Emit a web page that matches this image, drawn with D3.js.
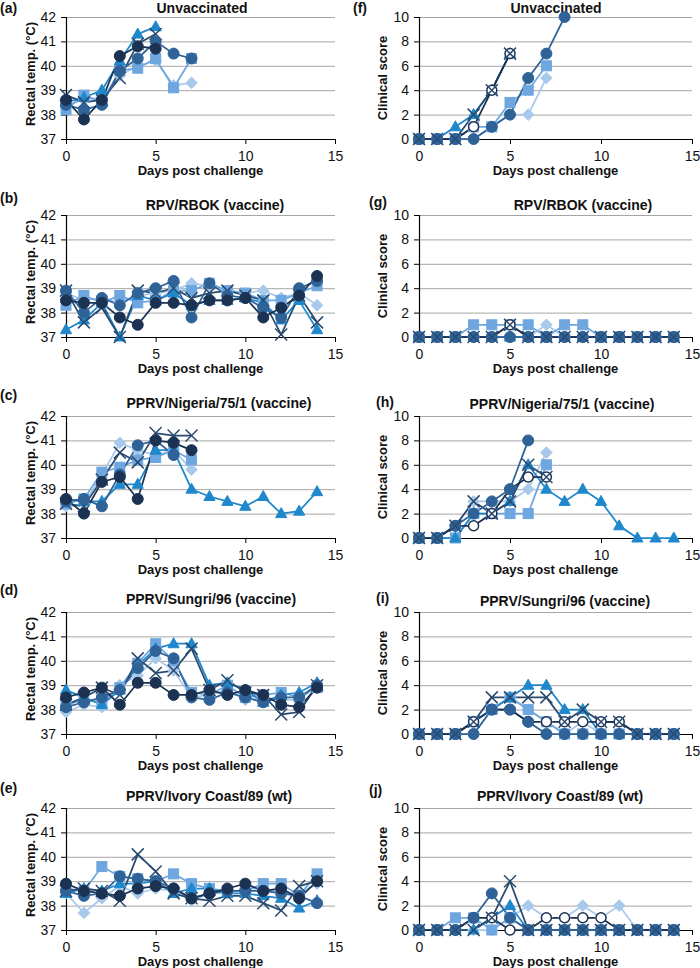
<!DOCTYPE html>
<html><head><meta charset="utf-8">
<script src="https://cdn.jsdelivr.net/npm/d3@7"></script>
<style>
body{margin:0;background:#fff;}
text{font-family:"Liberation Sans",Arial,sans-serif;fill:#111;}
</style>
</head><body>
<svg id="c" width="700" height="968"></svg>
<script>
// ---------- DATA ----------
const days = d3.range(0, 15);
const seriesNames = ['Animal 1 (diamond)', 'Animal 2 (square)', 'Animal 3 (triangle)', 'Animal 4 (cross)', 'Animal 5 (circle)', 'Animal 6 (circle)'];
const tempTicks = [37, 38, 39, 40, 41, 42];
const clinTicks = [0, 2, 4, 6, 8, 10];
const xTicks = [0, 5, 10, 15];

// rows: diamond, square, triangle, cross, circle, dark circle (temp) / open circle (clinical)
const tempA = [
  [38.4, 38.6, 38.7, 39.6, 40.0, 40.2, 39.2, 39.3],
  [38.2, 38.8, 38.5, 39.8, 39.9, 40.3, 39.1, 40.3],
  [38.5, 38.7, 39.0, 40.2, 41.3, 41.6],
  [38.8, 38.5, 38.6, 39.5, 40.9, 41.3],
  [38.4, 38.2, 38.4, 39.8, 40.3, 41.0, 40.5, 40.3],
  [38.6, 37.8, 38.6, 40.4, 40.8, 40.7]
];
const clinF = [
  [0, 0, 0, 0, 1, 2, 2, 5],
  [0, 0, 0, 1, 1, 3, 4, 6],
  [0, 0, 1, 2, 4, 7],
  [0, 0, 0, 2, 4, 7],
  [0, 0, 0, 0, 1, 2, 5, 7, 10],
  [0, 0, 0, 1, 4, 7]
];
const tempB = [
  [38.8, 38.5, 38.6, 38.4, 38.7, 38.8, 38.9, 39.2, 39.1, 38.9, 38.8, 38.9, 38.6, 38.8, 38.3],
  [38.3, 38.7, 38.4, 38.7, 38.4, 38.5, 38.9, 38.9, 39.2, 38.9, 38.8, 38.5, 38.5, 38.8, 39.1],
  [37.3, 37.7, 38.4, 37.0, 38.7, 38.5, 38.8, 38.3, 38.5, 38.5, 38.6, 38.4, 37.7, 38.5, 37.3],
  [38.9, 37.6, 38.2, 37.0, 38.9, 38.8, 39.0, 38.6, 38.8, 38.9, 38.7, 38.5, 37.1, 38.7, 37.6],
  [38.9, 38.0, 38.6, 38.3, 38.8, 39.0, 39.3, 37.8, 39.2, 38.7, 38.6, 38.2, 37.8, 39.0, 39.3],
  [38.5, 38.4, 38.4, 37.8, 37.5, 38.4, 38.4, 38.3, 38.5, 38.5, 38.6, 37.8, 38.2, 38.7, 39.5]
];
const clinG = [
  [0, 0, 0, 0, 0, 0, 0, 1, 0, 0, 0, 0, 0, 0, 0],
  [0, 0, 0, 1, 1, 1, 1, 0, 1, 1, 0, 0, 0, 0, 0],
  [0, 0, 0, 0, 0, 0, 0, 0, 0, 0, 0, 0, 0, 0, 0],
  [0, 0, 0, 0, 0, 1, 0, 0, 0, 0, 0, 0, 0, 0, 0],
  [0, 0, 0, 0, 0, 0, 0, 0, 0, 0, 0, 0, 0, 0, 0],
  [0, 0, 0, 0, 0, 1, 0, 0, 0, 0, 0, 0, 0, 0, 0]
];
const tempC = [
  [38.3, 38.4, 39.6, 40.9, 40.6, 40.4, 40.6, 39.8],
  [38.4, 38.6, 39.7, 39.9, 40.2, 40.3, 40.6, 40.2],
  [38.6, 38.5, 38.5, 39.2, 39.2, 40.6, 40.6, 39.0, 38.7, 38.5, 38.3, 38.7, 38.0, 38.1, 38.9],
  [38.4, 38.3, 39.4, 40.5, 40.1, 41.3, 41.2, 41.2],
  [38.5, 38.6, 38.3, 39.6, 40.8, 41.0, 40.4],
  [38.6, 38.0, 39.3, 39.5, 38.6, 41.0, 40.9, 40.6]
];
const clinH = [
  [0, 0, 1, 3, 3, 3, 4, 7],
  [0, 0, 0, 2, 2, 2, 2, 6],
  [0, 0, 0, 2, 2, 3, 6, 4, 3, 4, 3, 1, 0, 0, 0],
  [0, 0, 1, 3, 2, 3, 6, 5],
  [0, 0, 1, 2, 3, 4, 8],
  [0, 0, 1, 1, 2, 4, 5, 5]
];
const tempD = [
  [37.9, 38.2, 38.1, 39.0, 39.4, 40.1, 39.6, 38.5, 38.6, 38.8, 38.4, 38.5, 38.4, 38.4, 39.0],
  [38.2, 38.4, 38.3, 38.9, 39.9, 40.7, 40.0, 38.7, 38.6, 39.0, 38.5, 38.6, 38.7, 38.5, 38.9],
  [38.8, 38.5, 38.2, 38.8, 39.8, 40.5, 40.7, 40.7, 39.0, 39.1, 38.8, 38.3, 38.6, 38.7, 39.1],
  [38.2, 38.5, 38.9, 38.6, 40.1, 39.5, 39.6, 40.5, 38.8, 39.2, 38.7, 38.6, 37.8, 37.9, 39.0],
  [38.1, 38.3, 38.5, 38.8, 39.7, 40.4, 40.1, 38.5, 38.4, 38.7, 38.5, 38.3, 38.5, 38.5, 39.0],
  [38.5, 38.7, 38.9, 38.2, 39.1, 39.1, 38.6, 38.6, 38.8, 38.6, 38.8, 38.6, 38.2, 38.1, 38.9]
];
const clinI = [
  [0, 0, 0, 0, 2, 3, 2, 1, 0, 1, 0, 0, 0, 0, 0],
  [0, 0, 0, 1, 2, 3, 2, 1, 0, 0, 0, 0, 0, 0, 0],
  [0, 0, 0, 1, 2, 3, 4, 4, 2, 2, 0, 0, 0, 0, 0],
  [0, 0, 0, 1, 3, 3, 3, 3, 1, 2, 1, 1, 0, 0, 0],
  [0, 0, 0, 0, 2, 2, 1, 0, 0, 0, 0, 0, 0, 0, 0],
  [0, 0, 0, 1, 2, 2, 1, 1, 1, 1, 1, 1, 0, 0, 0]
];
const tempE = [
  [38.5, 37.7, 38.3, 38.8, 38.5, 38.7, 38.6, 38.2, 38.5, 38.5, 38.7, 38.7, 38.5, 38.5, 38.9],
  [38.7, 38.6, 39.6, 39.2, 39.1, 39.0, 39.3, 38.9, 38.7, 38.6, 38.6, 38.9, 38.9, 38.4, 39.3],
  [38.5, 38.7, 38.6, 38.9, 38.9, 39.0, 38.5, 38.7, 38.7, 38.5, 38.5, 38.4, 38.3, 37.9, 38.2],
  [38.6, 38.7, 38.6, 38.2, 40.1, 39.4, 38.5, 38.3, 38.2, 38.4, 38.4, 38.1, 37.8, 38.8, 39.0],
  [38.6, 38.4, 38.5, 39.2, 39.1, 39.0, 38.7, 38.3, 38.5, 38.6, 38.6, 38.6, 38.5, 38.4, 38.1],
  [38.9, 38.6, 38.5, 38.4, 38.7, 38.8, 38.7, 38.3, 38.5, 38.7, 38.9, 38.6, 38.7, 38.3, 39.0]
];
const clinJ = [
  [0, 0, 0, 0, 0, 1, 2, 1, 1, 2, 1, 2, 0, 0, 0],
  [0, 0, 1, 1, 0, 1, 0, 0, 0, 0, 0, 0, 0, 0, 0],
  [0, 0, 0, 0, 1, 2, 0, 0, 0, 0, 0, 0, 0, 0, 0],
  [0, 0, 0, 0, 1, 4, 0, 0, 0, 0, 0, 0, 0, 0, 0],
  [0, 0, 0, 1, 3, 1, 0, 0, 0, 0, 0, 0, 0, 0, 0],
  [0, 0, 0, 1, 1, 0, 0, 1, 1, 1, 1, 0, 0, 0, 0]
];

const panelLabels = ['(a)', '(b)', '(c)', '(d)', '(e)', '(f)', '(g)', '(h)', '(i)', '(j)'];
const panelTitles = ['Unvaccinated', 'RPV/RBOK (vaccine)', 'PPRV/Nigeria/75/1 (vaccine)', 'PPRV/Sungri/96 (vaccine)', 'PPRV/Ivory Coast/89 (wt)',
                     'Unvaccinated', 'RPV/RBOK (vaccine)', 'PPRV/Nigeria/75/1 (vaccine)', 'PPRV/Sungri/96 (vaccine)', 'PPRV/Ivory Coast/89 (wt)'];
const panelData = [tempA, tempB, tempC, tempD, tempE, clinF, clinG, clinH, clinI, clinJ];

// ---------- STYLE / LAYOUT ----------
const colors = ['#a9c9ec', '#6ea6df', '#1f88cc', '#2a4a6e', '#2f6398', '#1b3253'];
const cols = [{x0: 66, x1: 335, ytx: 35, ytDy: -4, ylabel: 'Rectal temp. (°C)'},
              {x0: 419, x1: 692, ytx: 387, ytDy: 0, ylabel: 'Clinical score'}];
const rowTops = [17, 215, 416, 612, 808];
const plotH = 122;
const titleX = [202, 215, 219, 211, 209, 556, 583, 562, 565, 560];
const titleY = [13, 210, 408, 604, 801, 13, 210, 409, 606, 801];
const labelX = [0, 0, 0, 0, 0, 353, 369, 376, 376, 369];
const labelY = [13, 203, 400, 595, 793, 13, 207, 407, 603, 795];
// marker drawing order (open circle above light series, filled circle and cross on top)
const clinMarkerOrder = [0, 1, 2, 5, 4, 3];
const tempMarkerOrder = [0, 1, 2, 3, 4, 5];

const svg = d3.select('#c');
const font = '"Liberation Sans",Arial,sans-serif';

function drawMarker(g, type, col, openCircle) {
  if (type === 0) {
    g.append('path').attr('d', 'M0,-5.8L5.8,0L0,5.8L-5.8,0Z').attr('fill', col).attr('stroke', col);
  } else if (type === 1) {
    g.append('rect').attr('x', -5).attr('y', -5).attr('width', 10).attr('height', 10).attr('fill', col).attr('stroke', col);
  } else if (type === 2) {
    g.append('path').attr('d', 'M0,-6L5.6,4L-5.6,4Z').attr('fill', col).attr('stroke', col);
  } else if (type === 3) {
    g.append('path').attr('d', 'M-6,-6L6,6M-6,6L6,-6').attr('stroke', col).attr('stroke-width', 1.5).attr('fill', 'none');
  } else if (type === 4) {
    g.append('circle').attr('r', 5.5).attr('fill', col).attr('stroke', col);
  } else {
    if (openCircle) {
      g.append('circle').attr('r', 5).attr('fill', '#fff').attr('stroke', col).attr('stroke-width', 1.5);
    } else {
      g.append('circle').attr('r', 5.5).attr('fill', col).attr('stroke', col);
    }
  }
}

panelData.forEach((data, p) => {
  const c = cols[p < 5 ? 0 : 1];
  const isTemp = p < 5;
  const top = rowTops[p % 5];
  const x = d3.scaleLinear().domain([0, 15]).range([c.x0, c.x1]);
  const y = isTemp ? d3.scaleLinear().domain([37, 42]).range([top + plotH, top])
                   : d3.scaleLinear().domain([0, 10]).range([top + plotH, top]);
  const yt = isTemp ? tempTicks : clinTicks;
  const g = svg.append('g');

  // gridlines
  g.append('g').attr('transform', `translate(${c.x0},0)`)
    .call(d3.axisLeft(y).tickValues(yt).tickSize(-(c.x1 - c.x0)).tickFormat(''))
    .call(s => s.select('.domain').remove())
    .call(s => s.selectAll('line').attr('stroke', '#a6a6a6').attr('stroke-width', 1));

  // y axis
  g.append('g').attr('transform', `translate(${c.x0},0)`)
    .call(d3.axisLeft(y).tickValues(yt).tickSize(5).tickPadding(5).tickFormat(d3.format('d')))
    .call(s => s.select('.domain').attr('stroke', '#000').attr('stroke-width', 1.2))
    .call(s => s.selectAll('.tick line').attr('stroke', '#000'))
    .call(s => s.selectAll('text').attr('font-size', 14).attr('fill', '#222').style('font-family', font));

  // x axis
  g.append('g').attr('transform', `translate(0,${top + plotH})`)
    .call(d3.axisBottom(x).tickValues(xTicks).tickSize(5).tickPadding(7).tickSizeOuter(0).tickFormat(d3.format('d')))
    .call(s => s.select('.domain').attr('stroke', '#000').attr('stroke-width', 1.2))
    .call(s => s.selectAll('.tick line').attr('stroke', '#000'))
    .call(s => s.selectAll('text').attr('font-size', 14).attr('fill', '#222').style('font-family', font));

  // titles
  g.append('text').attr('x', titleX[p]).attr('y', titleY[p]).attr('text-anchor', 'middle')
    .attr('font-size', 14).attr('font-weight', 'bold').text(panelTitles[p]);
  g.append('text').attr('x', labelX[p]).attr('y', labelY[p])
    .attr('font-size', 14).attr('font-weight', 'bold').text(panelLabels[p]);
  g.append('text').attr('x', (c.x0 + c.x1) / 2).attr('y', top + plotH + 36).attr('text-anchor', 'middle')
    .attr('font-size', 13).attr('font-weight', 'bold').text('Days post challenge');
  const cy = top + plotH / 2 + c.ytDy;
  g.append('text').attr('transform', `translate(${c.ytx},${cy}) rotate(-90)`).attr('text-anchor', 'middle')
    .attr('font-size', 13).attr('font-weight', 'bold').text(c.ylabel);

  // series lines
  const line = d3.line().defined(d => d != null).x((d, i) => x(days[i])).y(d => y(d));
  data.forEach((vals, s) => {
    g.append('path').datum(vals).attr('d', line).attr('fill', 'none')
      .attr('stroke', colors[s]).attr('stroke-width', 1.75);
  });
  // markers
  const order = isTemp ? tempMarkerOrder : clinMarkerOrder;
  order.forEach(s => {
    data[s].forEach((v, i) => {
      if (v == null) return;
      const m = g.append('g').attr('transform', `translate(${x(days[i])},${y(v)})`);
      drawMarker(m, s, colors[s], !isTemp);
    });
  });
});
</script>
</body></html>
